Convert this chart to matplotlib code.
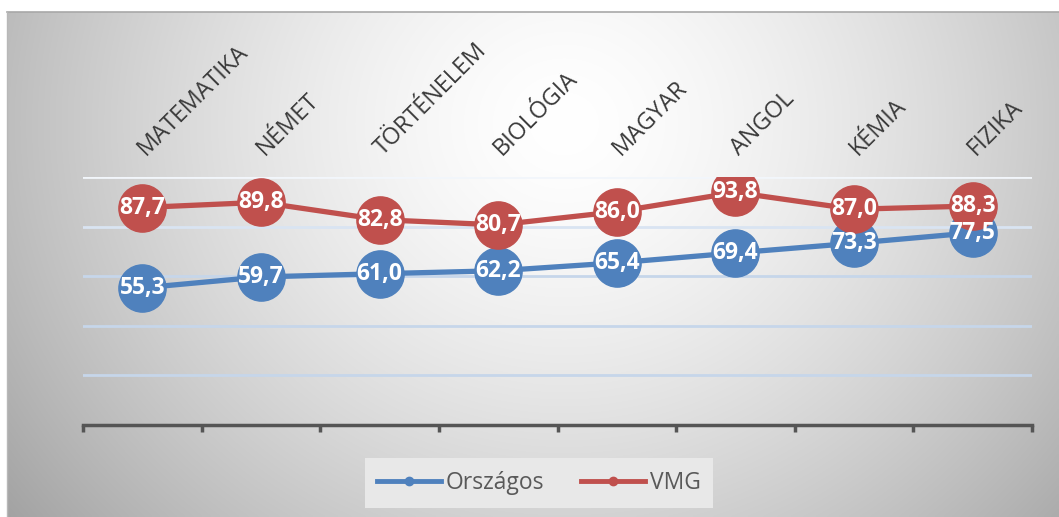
import numpy as np
import matplotlib
matplotlib.use("Agg")
import matplotlib.pyplot as plt
from matplotlib.transforms import blended_transform_factory
from matplotlib.lines import Line2D

categories = ["MATEMATIKA", "NÉMET", "TÖRTÉNELEM", "BIOLÓGIA", "MAGYAR", "ANGOL", "KÉMIA", "FIZIKA"]
orszagos = [55.3, 59.7, 61.0, 62.2, 65.4, 69.4, 73.3, 77.5]
vmg = [87.7, 89.8, 82.8, 80.7, 86.0, 93.8, 87.0, 88.3]
series_names = ["Országos", "VMG"]
gridlines = [20, 40, 60, 80, 100]

W, H = 1059, 517
fig = plt.figure(figsize=(W / 100, H / 100), dpi=100)
fig.patch.set_facecolor("white")

# background gradient (chart area)
bx0, by0 = 7, 12
bg = fig.add_axes([bx0 / W, 0, (W - bx0) / W, (H - by0) / H], zorder=-5)
gw, gh = 400, 200
xx, yy = np.meshgrid(np.linspace(0, 1, gw), np.linspace(0, 1, gh))
d = np.sqrt(((xx - 0.53) / 0.55) ** 2 + ((yy - 0.22) / 1.05) ** 2)
c = 1.0 - 0.27 * np.clip(d, 0, 1.3) ** 1.5
img = np.dstack([c, c, c])
bg.imshow(img, aspect="auto", extent=[0, 1, 1, 0], interpolation="bilinear")
bg.set_xlim(0, 1)
bg.set_ylim(1, 0)
bg.axis("off")
fig.add_artist(Line2D([bx0 / W, 1], [(H - by0) / H] * 2, color="#a8a8a8", lw=1.2, transform=fig.transFigure))
fig.add_artist(Line2D([bx0 / W] * 2, [0, (H - by0) / H], color="#b8b8b8", lw=1.0, transform=fig.transFigure))

left, right, top, bottom = 83, 1032, 177, 425
ax = fig.add_axes([left / W, (H - bottom) / H, (right - left) / W, (bottom - top) / H])
ax.set_facecolor("none")
n = len(categories)
x = np.arange(n)
ax.set_xlim(-0.5, n - 0.5)
ax.set_ylim(0, 100)

for g in gridlines:
    col = "#f2f6fb" if g == 100 else ("#d9e4f2" if g == 80 else "#c6d6ea")
    ax.axhline(g, color=col, lw=2.0, zorder=1)

for s in ["top", "right", "left"]:
    ax.spines[s].set_visible(False)
ax.spines["bottom"].set_color("#555555")
ax.spines["bottom"].set_linewidth(2.5)
ax.set_yticks([])
ax.set_xticks(np.arange(-0.5, n, 1.0))
ax.set_xticklabels([])
ax.tick_params(axis="x", direction="out", length=5, width=2.5, color="#555555")

blue = "#4f81bd"
red = "#c0504d"
ms = 34
ax.plot(x, orszagos, color=blue, lw=3.8, marker="o", ms=ms, mec=blue, mfc=blue, zorder=3, solid_capstyle="round")
ax.plot(x, vmg, color=red, lw=3.8, marker="o", ms=ms, mec=red, mfc=red, zorder=4, solid_capstyle="round")

lab_font = dict(family=["Open Sans", "DejaVu Sans"], fontsize=16.5, fontweight="bold", color="white")
for xi, v in zip(x, orszagos):
    ax.text(xi, v, f"{v:.1f}".replace(".", ","), ha="center", va="center", zorder=6, **lab_font)
for xi, v in zip(x, vmg):
    ax.text(xi, v, f"{v:.1f}".replace(".", ","), ha="center", va="center", zorder=7, **lab_font)

tr = blended_transform_factory(ax.transData, fig.transFigure)
for xi, cat in zip(x, categories):
    ax.text(xi + 0.03, (H - 156) / H, cat, rotation=45, rotation_mode="anchor",
            ha="left", va="baseline", transform=tr, fontsize=16.8,
            family=["Open Sans", "DejaVu Sans"], color="#3a3a3a")

handles = [Line2D([], [], color=blue, lw=3.5, marker="o", ms=6),
           Line2D([], [], color=red, lw=3.5, marker="o", ms=6)]
leg = fig.legend(handles, series_names, loc="center", bbox_to_anchor=(539 / W, 1 - 483 / H),
                 ncol=2, frameon=True, fancybox=False, facecolor="#e8e8e8", edgecolor="none",
                 framealpha=1.0, handlelength=2.8, handletextpad=0.2, columnspacing=1.6,
                 borderpad=0.55, borderaxespad=0.0, prop=dict(family=["Open Sans", "DejaVu Sans"], size=16.5))
for t in leg.get_texts():
    t.set_color("#595959")

fig.savefig("out.png", dpi=100)
